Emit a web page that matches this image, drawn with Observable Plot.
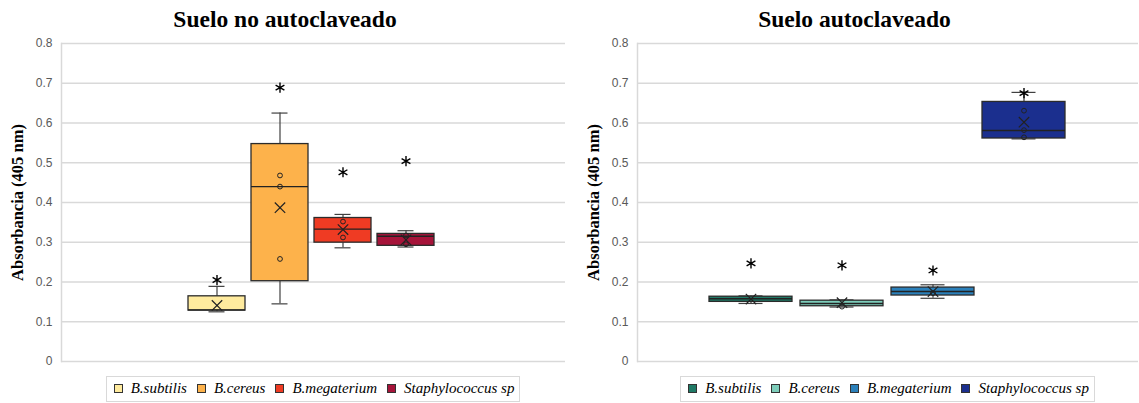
<!DOCTYPE html>
<html>
<head>
<meta charset="utf-8">
<script src="https://cdn.jsdelivr.net/npm/d3@7"></script>
<script src="https://cdn.jsdelivr.net/npm/@observablehq/plot@0.6"></script>
<style>
  html, body { margin: 0; padding: 0; background: #fff; }
  #wrap { display: flex; width: 1139px; height: 403px; overflow: hidden; }
  .panel { position: relative; display: flex; flex-direction: column; }
  .title { height: 36px; line-height: 39px; text-align: center; font-family: "Liberation Serif", "Times New Roman", serif; font-weight: bold; font-size: 23.5px; color: #000; }
  .legendRow { display: flex; justify-content: center; margin-top: 4px; }
  .legend { display: flex; align-items: center; border: 1px solid #d9d9d9; padding: 1px 5px 2px 7px; height: 21px; font-family: "Liberation Serif", "Times New Roman", serif; font-style: italic; font-size: 15px; color: #000; }
  .item { display: flex; align-items: center; margin-right: 10px; }
  .item:last-child { margin-right: 0; }
  .sw { width: 9px; height: 9px; border: 1px solid #333; margin-right: 8px; box-sizing: border-box; }
</style>
</head>
<body>
<div id="wrap"></div>
<script>
// ---------- data ----------
const species = ["B.subtilis", "B.cereus", "B.megaterium", "Staphylococcus sp"];
const yTicks = [0, 0.1, 0.2, 0.3, 0.4, 0.5, 0.6, 0.7, 0.8];

// Suelo no autoclaveado
const leftTitle = "Suelo no autoclaveado";
const leftColors = ["#FFEB9E", "#FDB24B", "#EF3B23", "#A6143A"];
const leftMin    = [0.125, 0.145, 0.286, 0.288];
const leftQ1     = [0.128, 0.202, 0.299, 0.291];
const leftMedian = [0.130, 0.440, 0.333, 0.315];
const leftQ3     = [0.164, 0.547, 0.361, 0.321];
const leftMax    = [0.189, 0.625, 0.370, 0.329];
const leftMean   = [0.141, 0.387, 0.332, 0.306];
const leftOutlier = [0.205, 0.689, 0.476, 0.504];
const leftPointSpecies = ["B.cereus", "B.cereus", "B.cereus", "B.megaterium", "B.megaterium", "Staphylococcus sp", "Staphylococcus sp"];
const leftPointValues  = [0.468, 0.440, 0.258, 0.352, 0.312, 0.317, 0.295];

// Suelo autoclaveado
const rightTitle = "Suelo autoclaveado";
const rightColors = ["#1F7A66", "#7DCDBA", "#2B80BA", "#1B2F8E"];
const rightMin    = [0.146, 0.137, 0.159, 0.560];
const rightQ1     = [0.150, 0.139, 0.166, 0.561];
const rightMedian = [0.158, 0.146, 0.176, 0.581];
const rightQ3     = [0.163, 0.153, 0.186, 0.653];
const rightMax    = [0.165, 0.155, 0.193, 0.677];
const rightMean   = [0.157, 0.148, 0.176, 0.602];
const rightOutlier = [0.247, 0.242, 0.229, 0.675];
const rightPointSpecies = ["B.cereus", "B.megaterium", "Staphylococcus sp", "Staphylococcus sp", "Staphylococcus sp"];
const rightPointValues  = [0.138, 0.172, 0.631, 0.582, 0.564];

const yLabel = "Absorbancia (405 nm)";

// ---------- drawing ----------
function makePanel(cfg) {
  const rows = species.map((s, i) => ({
    species: s, min: cfg.min[i], q1: cfg.q1[i], median: cfg.median[i], q3: cfg.q3[i],
    max: cfg.max[i], mean: cfg.mean[i], outlier: cfg.outlier[i]
  }));
  const pts = cfg.pointSpecies.map((s, i) => ({species: s, value: cfg.pointValues[i]}));

  const panel = document.createElement("div");
  panel.className = "panel";
  panel.style.width = cfg.width + "px";

  const t = document.createElement("div");
  t.className = "title";
  t.textContent = cfg.title;
  panel.appendChild(t);

  const chart = Plot.plot({
    width: cfg.width,
    height: 336,
    marginTop: 7,
    marginBottom: 11,
    marginLeft: cfg.marginLeft,
    marginRight: cfg.marginRight,
    style: {fontFamily: "Liberation Sans, Arial, sans-serif", fontSize: "12px", color: "#595959", background: "white", overflow: "visible"},
    x: {type: "band", domain: species, range: cfg.xRange, paddingInner: cfg.pad, paddingOuter: cfg.pad / 2, axis: null},
    y: {domain: [0, 0.8], axis: null},
    color: {domain: species, range: cfg.colors},
    marks: [
      Plot.gridY(yTicks, {stroke: "#d9d9d9", strokeOpacity: 1, strokeWidth: 1.5}),
      Plot.frame({anchor: "left", stroke: "#d9d9d9", strokeWidth: 1.5}),
      Plot.axisY(yTicks, {tickSize: 0, tickPadding: 9, label: null, tickFormat: d => d === 0 ? "0" : d.toFixed(1), fill: "#595959"}),
      Plot.text([yLabel], {text: d => d, frameAnchor: "left", rotate: -90, dx: -44, textAnchor: "middle", fontFamily: "Liberation Serif, Times New Roman, serif", fontWeight: "bold", fontSize: 16.5, fill: "#000"}),
      Plot.ruleX(rows, {x: "species", y1: "min", y2: "q1", stroke: "#404040", strokeWidth: 1.2}),
      Plot.ruleX(rows, {x: "species", y1: "q3", y2: "max", stroke: "#404040", strokeWidth: 1.2}),
      Plot.tickY(rows, {x: "species", y: "min", insetLeft: cfg.capInset, insetRight: cfg.capInset, stroke: "#404040", strokeWidth: 1.2}),
      Plot.tickY(rows, {x: "species", y: "max", insetLeft: cfg.capInset, insetRight: cfg.capInset, stroke: "#404040", strokeWidth: 1.2}),
      Plot.barY(rows, {x: "species", y1: "q1", y2: "q3", fill: "species", stroke: "#2b2b2b", strokeWidth: 1.3}),
      Plot.tickY(rows, {x: "species", y: "median", stroke: "#222", strokeWidth: 1.4}),
      Plot.dot(pts, {x: "species", y: "value", r: 2.4, fill: "none", stroke: "#222", strokeWidth: 1}),
      Plot.dot(rows, {x: "species", y: "mean", symbol: "times", r: 4.8, stroke: "#222", strokeWidth: 1.2}),
      Plot.dot(rows, {x: "species", y: "outlier", symbol: "asterisk", r: 4.8, stroke: "#000", strokeWidth: 1.4})
    ]
  });
  panel.appendChild(chart);

  const lr = document.createElement("div");
  lr.className = "legendRow";
  lr.style.paddingLeft = cfg.marginLeft + "px";
  lr.style.paddingRight = cfg.marginRight + "px";
  const lg = document.createElement("div");
  lg.className = "legend";
  species.forEach((s, i) => {
    const it = document.createElement("div");
    it.className = "item";
    const sw = document.createElement("div");
    sw.className = "sw";
    sw.style.background = cfg.colors[i];
    const tx = document.createElement("span");
    tx.textContent = s;
    it.appendChild(sw);
    it.appendChild(tx);
    lg.appendChild(it);
  });
  lr.appendChild(lg);
  panel.appendChild(lr);
  return panel;
}

const wrap = document.getElementById("wrap");
wrap.appendChild(makePanel({
  title: leftTitle, width: 570, marginLeft: 61, marginRight: 5,
  xRange: [184.25, 438.25], pad: 0.1, capInset: 20.5, colors: leftColors,
  min: leftMin, q1: leftQ1, median: leftMedian, q3: leftQ3, max: leftMax, mean: leftMean,
  outlier: leftOutlier, pointSpecies: leftPointSpecies, pointValues: leftPointValues
}));
wrap.appendChild(makePanel({
  title: rightTitle, width: 569, marginLeft: 67, marginRight: 1,
  xRange: [135, 499], pad: 0.088, capInset: 29.5, colors: rightColors,
  min: rightMin, q1: rightQ1, median: rightMedian, q3: rightQ3, max: rightMax, mean: rightMean,
  outlier: rightOutlier, pointSpecies: rightPointSpecies, pointValues: rightPointValues
}));
</script>
</body>
</html>
